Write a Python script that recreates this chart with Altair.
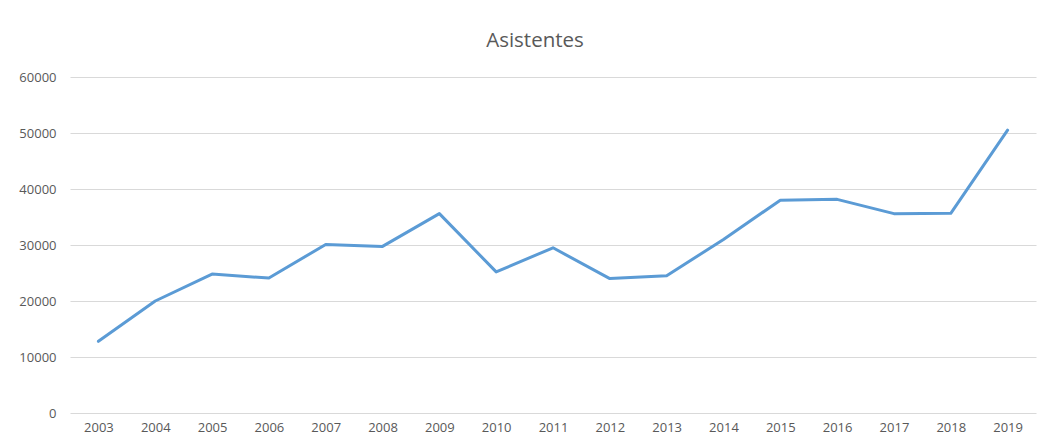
import altair as alt
import pandas as pd

years = [str(y) for y in range(2003, 2020)]
asistentes = [12800, 20000, 24800, 24100, 30100, 29750, 35600, 25200, 29500,
              24000, 24500, 31000, 38000, 38150, 35600, 35650, 50500]

df = pd.DataFrame({"Año": years, "Asistentes": asistentes})

FONT = "Open Sans"
GRAY = "#595959"

chart = alt.Chart(df).mark_line(color="#5B9BD5", strokeWidth=3, strokeCap="round", strokeJoin="round").encode(
    x=alt.X("Año:O", sort=years, scale=alt.Scale(type="point", padding=0.5),
            axis=alt.Axis(title=None, labelAngle=0, ticks=False, domain=False, grid=False,
                          labelFont=FONT, labelFontSize=13, labelColor=GRAY, labelPadding=8)),
    y=alt.Y("Asistentes:Q", scale=alt.Scale(domain=[0, 60000], nice=False),
            axis=alt.Axis(title=None, values=[0, 10000, 20000, 30000, 40000, 50000, 60000],
                          format="d", ticks=False, domain=False, gridColor="#d9d9d9", gridWidth=1,
                          labelFont=FONT, labelFontSize=13, labelColor=GRAY, labelPadding=14)),
).properties(
    width=966, height=336,
    background="white",
    title=alt.TitleParams("Asistentes", font=FONT, fontSize=20.5, fontWeight="normal",
                          color=GRAY, anchor="middle", dx=-18, offset=20),
    autosize=alt.AutoSizeParams(type="none"),
    padding={"left": 62, "top": 69, "right": 9, "bottom": 23},
).configure_view(stroke=None, strokeWidth=0)

chart.save("out.html", embed_options={"renderer": "svg", "actions": False})
